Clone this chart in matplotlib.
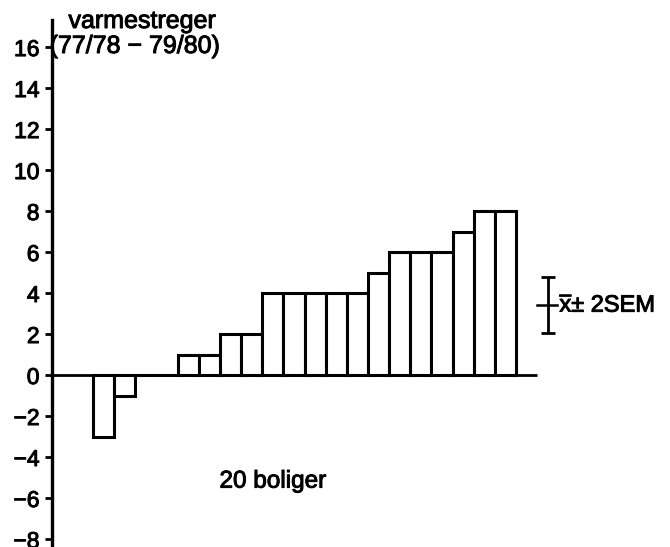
import numpy as np
import matplotlib
matplotlib.use("Agg")
import matplotlib.pyplot as plt
import matplotlib.patheffects as pe

plt.rcParams['font.family'] = ['Liberation Sans', 'DejaVu Sans']
plt.rcParams['mathtext.fontset'] = 'custom'
plt.rcParams['mathtext.rm'] = 'Liberation Sans'
plt.rcParams['mathtext.it'] = 'Liberation Sans'

# data: change in "varmestreger" (77/78 - 79/80) for 20 dwellings, sorted
values = [-3, -1, 0, 0, 1, 1, 2, 2, 4, 4, 4, 4, 4, 5, 6, 6, 6, 7, 8, 8]
yticks = list(range(-8, 17, 2))
ylabel_lines = ["varmestreger", "(77/78 \u2212 79/80)"]
count_label = "20 boliger"
err_label = r"$\overline{\mathrm{x}}$" + "\u00b1 2SEM"

heavy = [pe.withStroke(linewidth=0.7, foreground='black')]

W, H = 670, 547
fig = plt.figure(figsize=(W / 100, H / 100), dpi=100)
ax = fig.add_axes([52 / W, 0, (W - 52) / W, (H - 20) / H])

ax.set_ylim(-8.39, 17.32)
ax.set_xlim(-1.94, 27.28)

idx = np.arange(len(values))
ax.bar(idx, values, width=1, align='edge', facecolor='white',
       edgecolor='black', linewidth=2.2, zorder=3)
ax.plot([ax.get_xlim()[0], len(values) + 1], [0, 0], color='black',
        lw=2.0, zorder=4, solid_capstyle='butt')

# mean +- 2 SEM
v = np.array(values, dtype=float)
mean = v.mean()
sem = v.std(ddof=1) / np.sqrt(len(v))
xe = len(values) + 1.5
ax.errorbar([xe], [mean], yerr=[[2 * sem], [2 * sem]], fmt='none',
            ecolor='black', elinewidth=2.0, capsize=5, capthick=2.0)
ax.plot([xe - 0.5, xe + 0.45], [mean, mean], color='black', lw=1.8)
ax.text(xe + 0.55, mean, err_label, ha='left', va='center', fontsize=17,
        path_effects=heavy)

ax.text(8.5, -5.2, count_label, ha='center', va='center', fontsize=17.5,
        path_effects=heavy)

for s in ['top', 'right', 'bottom']:
    ax.spines[s].set_visible(False)
ax.spines['left'].set_linewidth(2.4)
ax.set_xticks([])
ax.set_yticks(yticks)
ax.tick_params(axis='y', direction='out', length=5, width=2.0,
               labelsize=16.5, pad=4)
for lab in ax.get_yticklabels():
    lab.set_path_effects(heavy)

fig.text(142 / W, 1 - 21 / H, ylabel_lines[0], ha='center', va='center',
         fontsize=18, path_effects=heavy)
fig.text(135 / W, 1 - 46 / H, ylabel_lines[1], ha='center', va='center',
         fontsize=18, path_effects=heavy)

fig.savefig("out.png", dpi=100)
